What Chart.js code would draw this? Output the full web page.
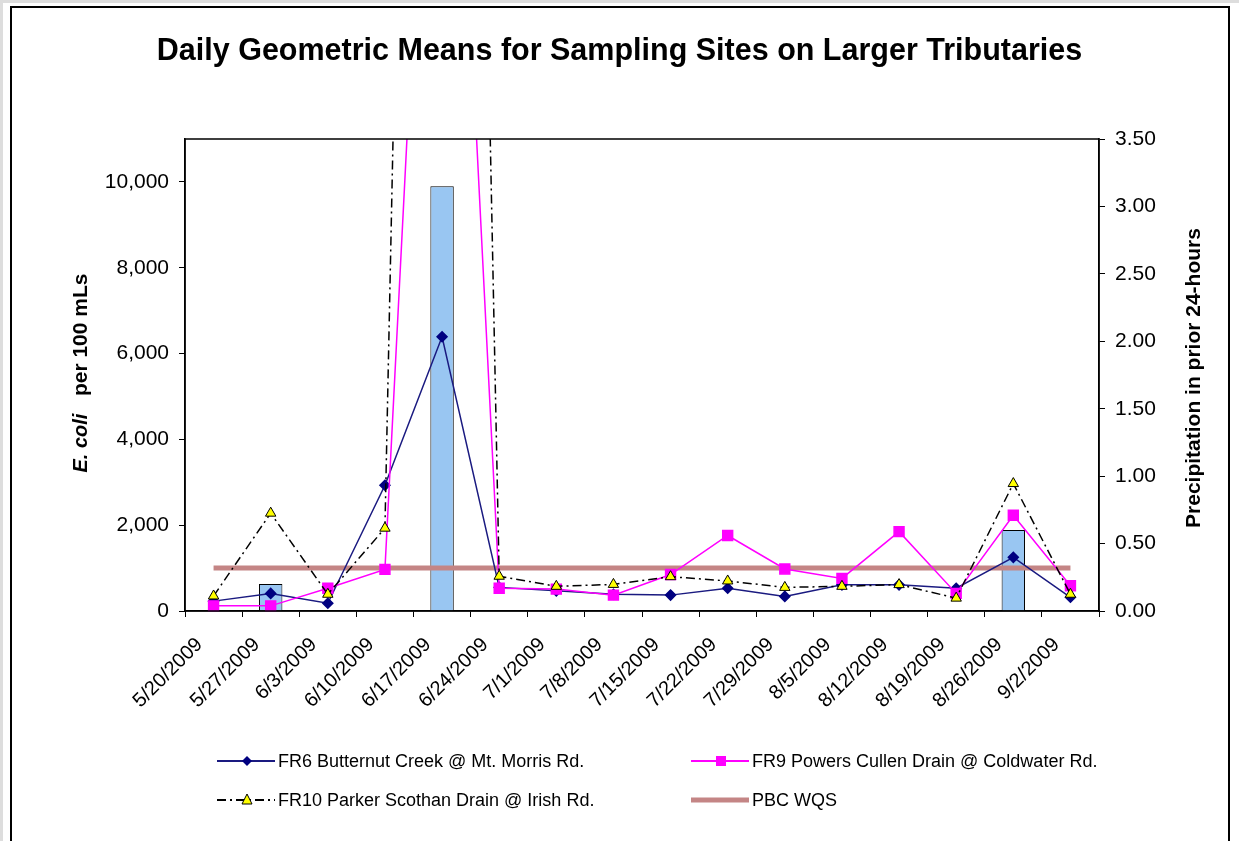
<!DOCTYPE html>
<html>
<head>
<meta charset="utf-8">
<title>Daily Geometric Means</title>
<script src="https://cdn.jsdelivr.net/npm/chart.js@4.4.1/dist/chart.umd.min.js"></script>
<style>
  html, body { margin: 0; padding: 0; background: #fff; }
  body { width: 1239px; height: 841px; position: relative; overflow: hidden;
         font-family: Arial, "Liberation Sans", sans-serif; }
  #myChart { position: absolute; left: 0; top: 0; }
  .frame { position: absolute; left: 10px; top: 6px; width: 1216px; height: 900px;
           border: 2px solid #000; pointer-events: none; }
  .outer { position: absolute; left: 0; top: 0; width: 1239px; height: 900px;
           border-left: 3px solid #ddd; border-top: 3px solid #ddd; box-sizing: border-box; pointer-events: none; }
  .legend-item { position: absolute; height: 20px; display: flex; align-items: center;
                 font-size: 18px; color: #000; white-space: nowrap; }
  .legend-item svg { margin-right: 3px; }
</style>
</head>
<body>
<div class="outer"></div>
<canvas id="myChart" width="1239" height="841"></canvas>
<div class="frame"></div>
<div id="legend"></div>
<script>
/* Daily geometric means chart (E. coli per 100 mLs) with precipitation bars */

// weekly date labels on the x axis
const sampleDates = ['5/20/2009', '5/27/2009', '6/3/2009', '6/10/2009', '6/17/2009', '6/24/2009',
                     '7/1/2009', '7/8/2009', '7/15/2009', '7/22/2009', '7/29/2009', '8/5/2009',
                     '8/12/2009', '8/19/2009', '8/26/2009', '9/2/2009'];

// geometric means, E. coli per 100 mLs
const fr6 = [230, 410, 180, 2930, 6390, 550, 470, 390, 370, 530, 340, 610, 610, 530, 1250, 320];
const fr9 = [120, 120, 530, 970, 27000, 530, 510, 370, 850, 1760, 980, 760, 1850, 410, 2230, 590];
const fr10 = [350, 2280, 390, 1930, 66000, 810, 575, 620, 800, 700, 550, 575, 615, 300, 2970, 390];
// PBC water quality standard
const pbcWqs = [1000, 1000, 1000, 1000, 1000, 1000, 1000, 1000, 1000, 1000, 1000, 1000, 1000, 1000, 1000, 1000];
// precipitation in prior 24 hours (inches)
const precip = [0, 0.20, 0, 0, 3.15, 0, 0, 0, 0, 0, 0, 0, 0, 0, 0.60, 0];

// axis tick values
const leftTicks = [0, 2000, 4000, 6000, 8000, 10000];
const rightTicks = [0, 0.5, 1.0, 1.5, 2.0, 2.5, 3.0, 3.5];

const FONT = 'Arial, "Liberation Sans", sans-serif';
Chart.defaults.font.family = FONT;
Chart.defaults.color = '#000';

const lineClip = {left: 10, top: 0, right: 10, bottom: 10};

// box round the plot area
const plotBox = {
    id: 'plotBox',
    afterDatasetsDraw(chart) {
        const {ctx, chartArea} = chart;
        ctx.save();
        ctx.strokeStyle = '#000';
        ctx.lineWidth = 1.5;
        ctx.strokeRect(chartArea.left, chartArea.top, chartArea.right - chartArea.left, chartArea.bottom - chartArea.top);
        ctx.restore();
    }
};

// axis titles (left one has an italic part, right one reads bottom to top)
const axisTitles = {
    id: 'axisTitles',
    afterDraw(chart) {
        const {ctx, chartArea} = chart;
        const midY = (chartArea.top + chartArea.bottom) / 2;
        const italicFont = 'italic bold 20px ' + FONT;
        const boldFont = 'bold 21px ' + FONT;
        const part1 = 'E. coli';
        const part2 = '   per 100 mLs';

        ctx.save();
        ctx.fillStyle = '#000';
        ctx.textBaseline = 'middle';
        ctx.textAlign = 'left';
        ctx.translate(chartArea.left - 104, midY - 2);
        ctx.rotate(-Math.PI / 2);
        ctx.font = italicFont;
        const w1 = ctx.measureText(part1).width;
        ctx.font = boldFont;
        const w2 = ctx.measureText(part2).width;
        const x0 = -(w1 + w2) / 2;
        ctx.font = italicFont;
        ctx.fillText(part1, x0, 0);
        ctx.font = boldFont;
        ctx.fillText(part2, x0 + w1, 0);
        ctx.restore();

        ctx.save();
        ctx.fillStyle = '#000';
        ctx.textBaseline = 'middle';
        ctx.textAlign = 'center';
        ctx.font = boldFont;
        ctx.translate(chartArea.right + 95, midY + 3);
        ctx.rotate(-Math.PI / 2);
        ctx.fillText('Precipitation in prior 24-hours', 0, 0);
        ctx.restore();
    }
};

const datasets = [{
    type: 'bar',
    label: 'Precipitation',
    data: precip,
    yAxisID: 'y1',
    backgroundColor: '#99c6f2',
    borderColor: '#000',
    borderWidth: 1,
    barPercentage: 0.41,
    categoryPercentage: 1,
    order: 5
}, {
    type: 'line',
    label: 'PBC WQS',
    data: pbcWqs,
    yAxisID: 'y',
    borderColor: '#c48585',
    borderWidth: 5,
    pointRadius: 0,
    clip: lineClip,
    order: 4
}, {
    type: 'line',
    label: 'FR6 Butternut Creek @ Mt. Morris Rd.',
    data: fr6,
    yAxisID: 'y',
    borderColor: '#1a1a80',
    borderWidth: 1.5,
    pointStyle: 'rectRot',
    pointRadius: 5,
    pointBackgroundColor: '#000080',
    pointBorderColor: '#000080',
    clip: lineClip,
    order: 3
}, {
    type: 'line',
    label: 'FR9 Powers Cullen Drain @ Coldwater Rd.',
    data: fr9,
    yAxisID: 'y',
    borderColor: '#ff00ff',
    borderWidth: 1.5,
    pointStyle: 'rect',
    pointRadius: 7,
    pointBackgroundColor: '#ff00ff',
    pointBorderColor: '#ff00ff',
    clip: lineClip,
    order: 2
}, {
    type: 'line',
    label: 'FR10 Parker Scothan Drain @ Irish Rd.',
    data: fr10,
    yAxisID: 'y',
    borderColor: '#000',
    borderWidth: 1.5,
    borderDash: [9, 4, 2, 4],
    pointStyle: 'triangle',
    pointRadius: 6,
    pointBackgroundColor: '#ffff00',
    pointBorderColor: '#000',
    pointBorderWidth: 1,
    clip: lineClip,
    order: 1
}];

const tickFont = {size: 21};

var context = document.getElementById('myChart').getContext('2d');
var myChart = new Chart(context, {
    type: 'line',
    data: {labels: sampleDates, datasets: datasets},
    plugins: [plotBox, axisTitles],
    options: {
        responsive: false,
        animation: false,
        devicePixelRatio: 1,
        layout: {padding: 0},
        plugins: {
            legend: {display: false},
            tooltip: {enabled: false},
            title: {
                display: true,
                text: 'Daily Geometric Means for Sampling Sites on Larger Tributaries',
                font: {size: 30.5, weight: 'bold'},
                color: '#000',
                padding: {top: 33, bottom: 69.4}
            }
        },
        scales: {
            x: {
                type: 'category',
                offset: true,
                afterFit(scale) { scale.height = 230; },
                grid: {offset: true, drawOnChartArea: false, tickLength: 6, color: '#000'},
                border: {color: '#000', width: 1.5},
                ticks: {
                    autoSkip: false,
                    minRotation: 45,
                    maxRotation: 45,
                    labelOffset: -14,
                    padding: 16,
                    font: {size: 20}
                }
            },
            y: {
                type: 'linear',
                position: 'left',
                min: 0,
                max: 11000,
                afterFit(scale) { scale.width = 185; },
                afterBuildTicks(scale) { scale.ticks = leftTicks.map(v => ({value: v})); },
                grid: {drawOnChartArea: false, tickLength: 6, color: '#000'},
                border: {color: '#000', width: 1.5},
                ticks: {padding: 10, font: tickFont}
            },
            y1: {
                type: 'linear',
                position: 'right',
                min: 0,
                max: 3.5,
                afterFit(scale) { scale.width = 140; },
                afterBuildTicks(scale) { scale.ticks = rightTicks.map(v => ({value: v})); },
                grid: {drawOnChartArea: false, tickLength: 6, color: '#000'},
                border: {color: '#000', width: 1.5},
                ticks: {
                    padding: 10,
                    font: tickFont,
                    callback: (v) => v.toFixed(2)
                }
            }
        }
    }
});

// legend below the chart, two columns
const legendSpots = [[217, 751], [691, 751], [217, 790], [691, 790]];
const legendSets = [datasets[2], datasets[3], datasets[4], datasets[1]];

function swatch(ds) {
    const w = 58, h = 20, cy = 10, cx = 30;
    let s = '<svg width="' + w + '" height="' + h + '">';
    const dash = ds.borderDash ? ' stroke-dasharray="' + ds.borderDash.join(',') + '"' : '';
    s += '<line x1="0" y1="' + cy + '" x2="' + w + '" y2="' + cy + '" stroke="' + ds.borderColor +
         '" stroke-width="' + (ds.borderWidth === 5 ? 5 : 2) + '"' + dash + '/>';
    if (ds.pointStyle === 'rectRot') {
        s += '<polygon points="' + cx + ',5 ' + (cx + 5) + ',10 ' + cx + ',15 ' + (cx - 5) + ',10" fill="' + ds.pointBackgroundColor + '"/>';
    } else if (ds.pointStyle === 'rect') {
        s += '<rect x="' + (cx - 5) + '" y="5" width="10" height="10" fill="' + ds.pointBackgroundColor + '"/>';
    } else if (ds.pointStyle === 'triangle') {
        s += '<polygon points="' + cx + ',4 ' + (cx + 5) + ',14 ' + (cx - 5) + ',14" fill="' + ds.pointBackgroundColor + '" stroke="#000" stroke-width="1"/>';
    }
    return s + '</svg>';
}

const legendBox = document.getElementById('legend');
legendSets.forEach((ds, i) => {
    const item = document.createElement('div');
    item.className = 'legend-item';
    item.style.left = legendSpots[i][0] + 'px';
    item.style.top = legendSpots[i][1] + 'px';
    item.innerHTML = swatch(ds) + '<span>' + ds.label + '</span>';
    legendBox.appendChild(item);
});
</script>
</body>
</html>
